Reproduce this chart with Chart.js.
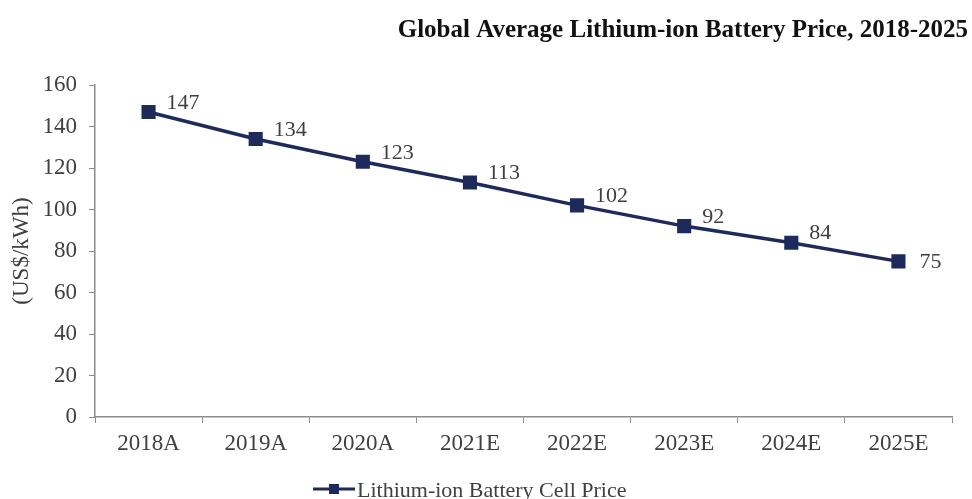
<!DOCTYPE html>
<html>
<head>
<meta charset="utf-8">
<script src="https://cdn.jsdelivr.net/npm/chart.js@4"></script>
<style>
    html, body { margin: 0; padding: 0; background: #fff; }
    #wrap { width: 972px; height: 499px; position: relative; }
</style>
</head>
<body>
<div id="wrap"><canvas id="priceChart"></canvas></div>
<script>
// DATA
const years = ["2018A", "2019A", "2020A", "2021E", "2022E", "2023E", "2024E", "2025E"];
const cellPrice = [147, 134, 123, 113, 102, 92, 84, 75];
const yTicks = [0, 20, 40, 60, 80, 100, 120, 140, 160];

const titleText = "Global Average Lithium-ion Battery Price, 2018-2025";
const seriesName = "Lithium-ion Battery Cell Price";

const navy = '#1f2a5c';
const axisGray = '#8c8c8c';
const textGray = '#404040';
const serif = '"Liberation Serif", "Times New Roman", serif';

// title, value labels and legend drawn by hand
const extras = {
    id: 'extras',
    afterDatasetsDraw(chart) {
        const ctx = chart.ctx;
        const meta = chart.getDatasetMeta(0);
        ctx.save();
        ctx.font = '22px ' + serif;
        ctx.fillStyle = textGray;
        ctx.textAlign = 'left';
        ctx.textBaseline = 'middle';
        meta.data.forEach((pt, i) => {
            const last = i === meta.data.length - 1;
            ctx.fillText(cellPrice[i], pt.x + (last ? 21 : 18), pt.y + (last ? 1 : -9));
        });
        ctx.restore();
    },
    afterDraw(chart) {
        const ctx = chart.ctx;
        ctx.save();
        // title
        ctx.font = 'bold 25px ' + serif;
        ctx.fillStyle = '#111';
        ctx.textAlign = 'right';
        ctx.textBaseline = 'alphabetic';
        ctx.fillText(titleText, 968, 37);

        // legend
        const ly = 489;
        ctx.strokeStyle = navy;
        ctx.lineWidth = 3;
        ctx.beginPath();
        ctx.moveTo(313, ly);
        ctx.lineTo(355, ly);
        ctx.stroke();
        ctx.fillStyle = navy;
        ctx.fillRect(329, ly - 5, 10, 10);
        ctx.font = '22px ' + serif;
        ctx.fillStyle = textGray;
        ctx.textAlign = 'left';
        ctx.fillText(seriesName, 357, 497);
        ctx.restore();
    }
};

new Chart(document.getElementById('priceChart'), {
    type: 'line',
    data: {
        labels: years,
        datasets: [{
            label: seriesName,
            data: cellPrice,
            borderColor: navy,
            backgroundColor: navy,
            borderWidth: 3.5,
            tension: 0,
            pointStyle: 'rect',
            pointRadius: 7.5,
            pointHoverRadius: 7.5
        }]
    },
    options: {
        responsive: true,
        maintainAspectRatio: false,
        animation: false,
        layout: { padding: { top: 85, right: 20, left: 0, bottom: 0 } },
        plugins: {
            legend: { display: false },
            title: { display: false },
            tooltip: { enabled: false }
        },
        scales: {
            x: {
                offset: true,
                grid: {
                    offset: true,
                    drawOnChartArea: false,
                    drawTicks: true,
                    tickLength: 6,
                    color: axisGray
                },
                border: { color: axisGray, width: 1.5 },
                ticks: {
                    color: textGray,
                    font: { family: serif, size: 23 },
                    padding: 7,
                    maxRotation: 0
                },
                afterFit(scale) { scale.height = 82; }
            },
            y: {
                min: 0,
                max: 160,
                afterBuildTicks(scale) {
                    scale.ticks = yTicks.map(v => ({ value: v }));
                },
                grid: {
                    drawOnChartArea: false,
                    drawTicks: true,
                    tickLength: 6,
                    color: axisGray
                },
                border: { color: axisGray, width: 1.5 },
                ticks: {
                    color: textGray,
                    font: { family: serif, size: 23 },
                    padding: 12
                },
                title: {
                    display: true,
                    text: '(US$/kWh)',
                    color: textGray,
                    font: { family: serif, size: 23 },
                    padding: { top: 8, bottom: 0 }
                },
                afterFit(scale) { scale.width = 95; }
            }
        }
    },
    plugins: [extras]
});
</script>
</body>
</html>
